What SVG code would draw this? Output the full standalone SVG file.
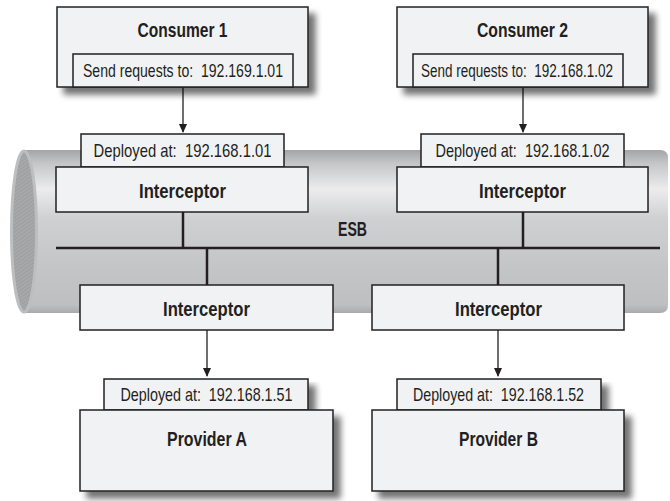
<svg xmlns="http://www.w3.org/2000/svg" width="670" height="501" viewBox="0 0 670 501">
<defs>
  <linearGradient id="pipe" x1="0" y1="0" x2="0" y2="1">
    <stop offset="0" stop-color="#a3a4a6"/>
    <stop offset="0.08" stop-color="#c4c5c7"/>
    <stop offset="0.24" stop-color="#ececed"/>
    <stop offset="0.42" stop-color="#cfd0d2"/>
    <stop offset="0.75" stop-color="#c3c4c6"/>
    <stop offset="0.95" stop-color="#bebfc1"/>
    <stop offset="1" stop-color="#a9aaac"/>
  </linearGradient>
  <pattern id="hatch" width="3" height="3" patternUnits="userSpaceOnUse" patternTransform="rotate(55)">
    <rect width="3" height="3" fill="#a7a8aa"/>
    <line x1="0" y1="0" x2="0" y2="3" stroke="#939496" stroke-width="1"/>
  </pattern>
  <filter id="shadow" x="-10%" y="-10%" width="130%" height="140%">
    <feGaussianBlur in="SourceAlpha" stdDeviation="3"/>
    <feOffset dx="7" dy="7" result="b"/>
    <feComponentTransfer in="b" result="s"><feFuncA type="linear" slope="0.55"/></feComponentTransfer>
    <feMerge><feMergeNode in="s"/><feMergeNode in="SourceGraphic"/></feMerge>
  </filter>
  <marker id="arrow" markerWidth="9" markerHeight="11" refX="8" refY="4.5" orient="auto" markerUnits="userSpaceOnUse" viewBox="0 0 9 11">
    <path d="M0,0.5 L9,4.5 L0,8.5 Z" fill="#231f20"/>
  </marker>
</defs>
<style>
  .box { fill: #f1f2f4; stroke: #231f20; stroke-width: 1.5; }
  .title { font-family: "Liberation Sans", Arial, sans-serif; font-weight: bold; font-size: 21px; fill: #231f20; text-anchor: middle; }
  .label { font-family: "Liberation Sans", Arial, sans-serif; font-size: 18.5px; fill: #231f20; text-anchor: middle; }
  .send { font-size: 17.5px; }
  .bus { stroke: #231f20; stroke-width: 2.5; fill: none; }
  .arr { stroke: #231f20; stroke-width: 1.3; fill: none; marker-end: url(#arrow); }
</style>

<g id="esb">
  <path d="M24,150 H660 Q668,150 668,158 V305 Q668,313 660,313 H24 Z" fill="url(#pipe)"/>
  <ellipse cx="24" cy="231.5" rx="12.5" ry="80.5" fill="url(#hatch)" stroke="#bdbec0" stroke-width="3"/>
  <text class="title" x="352.5" y="236" textLength="29" lengthAdjust="spacingAndGlyphs">ESB</text>
</g>

<g id="connectors">
  <line class="bus" x1="56" y1="248" x2="660" y2="248"/>
  <line class="bus" x1="183" y1="212" x2="183" y2="248"/>
  <line class="bus" x1="523" y1="212" x2="523" y2="248"/>
  <line class="bus" x1="207" y1="248" x2="207" y2="285"/>
  <line class="bus" x1="498" y1="248" x2="498" y2="285"/>
  <line class="arr" x1="183" y1="87" x2="183" y2="132"/>
  <line class="arr" x1="523" y1="87" x2="523" y2="132"/>
  <line class="arr" x1="207" y1="330" x2="207" y2="376"/>
  <line class="arr" x1="498" y1="330" x2="498" y2="376"/>
</g>

<g id="consumer1">
  <rect class="box" x="57" y="7" width="251" height="80" filter="url(#shadow)"/>
  <text class="title" x="182.5" y="37" textLength="90" lengthAdjust="spacingAndGlyphs">Consumer 1</text>
  <rect class="box" x="73" y="54" width="220" height="33"/>
  <text class="label send" x="183" y="77" textLength="200" lengthAdjust="spacingAndGlyphs" xml:space="preserve">Send requests to:  192.169.1.01</text>
</g>

<g id="consumer2">
  <rect class="box" x="397" y="7" width="251" height="80" filter="url(#shadow)"/>
  <text class="title" x="522.5" y="37" textLength="91" lengthAdjust="spacingAndGlyphs">Consumer 2</text>
  <rect class="box" x="413" y="54" width="210" height="33"/>
  <text class="label send" x="517" y="77" textLength="192" lengthAdjust="spacingAndGlyphs" xml:space="preserve">Send requests to:  192.168.1.02</text>
</g>

<g id="interceptor-c1">
  <rect class="box" x="81" y="134" width="203" height="33"/>
  <text class="label" x="182.5" y="157" textLength="178" lengthAdjust="spacingAndGlyphs" xml:space="preserve">Deployed at:  192.168.1.01</text>
  <rect class="box" x="56" y="167" width="252" height="45"/>
  <text class="title" x="182.5" y="197.5" textLength="87" lengthAdjust="spacingAndGlyphs">Interceptor</text>
</g>

<g id="interceptor-c2">
  <rect class="box" x="421" y="134" width="203" height="33"/>
  <text class="label" x="522.5" y="157" textLength="174" lengthAdjust="spacingAndGlyphs" xml:space="preserve">Deployed at:  192.168.1.02</text>
  <rect class="box" x="397" y="167" width="251" height="45"/>
  <text class="title" x="522.5" y="197.5" textLength="87" lengthAdjust="spacingAndGlyphs">Interceptor</text>
</g>

<g id="interceptor-pa">
  <rect class="box" x="80" y="285" width="253" height="45"/>
  <text class="title" x="206.5" y="315.5" textLength="87" lengthAdjust="spacingAndGlyphs">Interceptor</text>
</g>

<g id="interceptor-pb">
  <rect class="box" x="372" y="285" width="252" height="45"/>
  <text class="title" x="498.5" y="315.5" textLength="87" lengthAdjust="spacingAndGlyphs">Interceptor</text>
</g>

<g id="providerA">
  <rect class="box" x="104" y="379" width="204" height="31" filter="url(#shadow)"/>
  <rect class="box" x="80" y="410" width="253" height="81" filter="url(#shadow)"/>
  <text class="label" x="206.5" y="401" textLength="172" lengthAdjust="spacingAndGlyphs" xml:space="preserve">Deployed at:  192.168.1.51</text>
  <text class="title" x="207" y="445.5" textLength="80" lengthAdjust="spacingAndGlyphs">Provider A</text>
</g>

<g id="providerB">
  <rect class="box" x="397" y="379" width="204" height="31" filter="url(#shadow)"/>
  <rect class="box" x="372" y="410" width="252" height="81" filter="url(#shadow)"/>
  <text class="label" x="498.5" y="401" textLength="171" lengthAdjust="spacingAndGlyphs" xml:space="preserve">Deployed at:  192.168.1.52</text>
  <text class="title" x="498.5" y="445.5" textLength="79" lengthAdjust="spacingAndGlyphs">Provider B</text>
</g>
</svg>
